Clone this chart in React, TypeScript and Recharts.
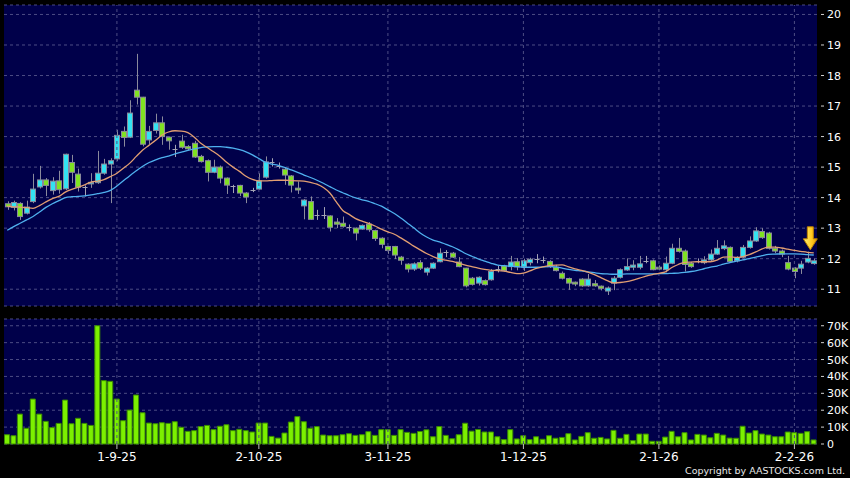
import React from 'react';
import {
  ComposedChart, Bar, Line, XAxis, YAxis, CartesianGrid, ReferenceLine, ReferenceDot,
} from 'recharts';

// daily OHLC (126 sessions)
const opens = [
  13.80, 13.68, 13.81, 13.49, 13.87, 14.35, 14.58, 14.23, 14.55, 14.29,
  15.15, 14.77, 14.34, 14.45, 14.49, 14.80, 15.10, 15.27, 16.17, 15.98,
  17.52, 17.29, 15.89, 16.20, 16.45, 15.98, 15.59, 15.85, 15.67, 15.78,
  15.35, 15.21, 14.83, 15.00, 14.64, 14.38, 14.40, 14.15, 14.26, 14.28,
  14.67, 15.18, 15.05, 14.93, 14.71, 14.31, 13.73, 13.87, 13.43, 13.43,
  13.40, 13.20, 13.16, 13.03, 13.00, 12.97, 13.13, 12.92, 12.67, 12.40,
  12.40, 12.05, 11.82, 11.66, 11.87, 11.56, 11.69, 11.90, 12.21, 12.18,
  11.89, 11.69, 11.36, 11.20, 11.28, 11.31, 11.66, 11.76, 11.74, 11.90,
  11.73, 11.87, 11.98, 11.96, 11.91, 11.72, 11.52, 11.35, 11.23, 11.33,
  11.11, 11.18, 11.10, 10.94, 11.20, 11.39, 11.63, 11.72, 11.72, 11.94,
  11.93, 11.72, 11.64, 11.85, 12.34, 12.25, 11.85, 11.91, 11.87, 11.96,
  12.15, 12.33, 12.37, 11.93, 12.05, 12.37, 12.58, 12.89, 12.84, 12.34,
  12.25, 11.87, 11.69, 11.69, 11.89, 11.84,
];
const highs = [
  13.88, 13.90, 13.85, 13.90, 14.78, 15.04, 14.64, 14.67, 14.88, 15.44,
  15.40, 14.95, 14.40, 14.80, 15.53, 15.27, 15.29, 16.22, 16.33, 17.19,
  18.71, 17.30, 16.35, 16.75, 16.66, 16.00, 15.73, 16.06, 15.72, 15.86,
  15.40, 15.25, 15.24, 15.05, 14.66, 14.42, 14.42, 14.18, 14.32, 14.80,
  15.35, 15.29, 15.15, 15.00, 14.74, 14.53, 13.95, 14.04, 13.60, 13.69,
  13.42, 13.33, 13.38, 13.12, 13.02, 13.12, 13.20, 12.95, 12.70, 12.42,
  12.42, 12.09, 11.85, 11.88, 11.95, 11.72, 11.88, 12.34, 12.28, 12.22,
  12.05, 11.70, 11.40, 11.42, 11.32, 11.66, 11.76, 11.80, 12.09, 12.02,
  12.00, 12.03, 12.15, 12.07, 11.95, 11.80, 11.58, 11.38, 11.25, 11.36,
  11.50, 11.30, 11.12, 11.09, 11.43, 11.68, 12.01, 11.95, 12.09, 12.09,
  11.97, 11.78, 12.07, 12.49, 12.68, 12.30, 11.90, 12.01, 12.08, 12.30,
  12.61, 12.60, 12.40, 12.08, 12.45, 12.73, 13.03, 13.00, 12.88, 12.42,
  12.30, 12.09, 11.72, 11.93, 12.23, 12.00,
];
const lows = [
  13.60, 13.58, 13.27, 13.45, 13.82, 14.30, 14.05, 14.10, 14.13, 14.25,
  14.48, 14.20, 14.04, 14.32, 14.45, 14.75, 13.82, 15.20, 15.67, 15.95,
  17.05, 15.68, 15.75, 16.10, 15.73, 15.57, 15.33, 15.60, 15.55, 15.30,
  15.15, 14.53, 14.80, 14.47, 14.12, 14.15, 14.05, 13.82, 14.18, 14.25,
  14.62, 15.02, 14.95, 14.42, 14.17, 14.12, 13.29, 13.27, 13.27, 13.30,
  12.89, 13.00, 13.02, 12.90, 12.60, 12.95, 12.88, 12.58, 12.34, 12.16,
  11.99, 11.80, 11.55, 11.60, 11.63, 11.45, 11.66, 11.88, 12.05, 12.02,
  11.72, 11.06, 11.12, 11.12, 11.12, 11.28, 11.55, 11.58, 11.62, 11.62,
  11.60, 11.78, 11.85, 11.85, 11.70, 11.58, 11.32, 10.98, 11.10, 11.08,
  11.08, 11.08, 10.96, 10.81, 10.97, 11.35, 11.60, 11.62, 11.65, 11.85,
  11.62, 11.62, 11.55, 11.82, 12.20, 11.58, 11.70, 11.85, 11.82, 11.92,
  12.12, 12.28, 11.88, 11.88, 12.02, 12.33, 12.55, 12.65, 12.30, 12.18,
  12.05, 11.62, 11.36, 11.50, 11.85, 11.80,
];
const closes = [
  13.70, 13.84, 13.38, 13.69, 14.28, 14.58, 14.40, 14.54, 14.26, 15.42,
  14.83, 14.34, 14.34, 14.50, 14.80, 15.10, 15.21, 16.04, 15.97, 16.77,
  17.29, 15.75, 16.17, 16.45, 16.00, 15.86, 15.59, 15.65, 15.60, 15.33,
  15.18, 14.83, 15.00, 14.64, 14.41, 14.38, 14.15, 14.02, 14.26, 14.55,
  15.17, 15.18, 15.05, 14.74, 14.41, 14.25, 13.92, 13.29, 13.43, 13.43,
  13.03, 13.13, 13.06, 13.03, 12.84, 13.09, 12.95, 12.66, 12.47, 12.27,
  12.12, 11.95, 11.66, 11.83, 11.69, 11.69, 11.85, 12.18, 12.21, 12.05,
  11.74, 11.11, 11.16, 11.39, 11.15, 11.58, 11.66, 11.61, 11.89, 11.73,
  11.93, 11.98, 11.98, 11.96, 11.74, 11.61, 11.36, 11.20, 11.17, 11.11,
  11.33, 11.11, 11.03, 11.04, 11.36, 11.64, 11.74, 11.79, 11.83, 11.94,
  11.64, 11.66, 11.85, 12.34, 12.24, 11.81, 11.74, 11.91, 11.96, 12.15,
  12.34, 12.42, 11.91, 12.04, 12.37, 12.58, 12.91, 12.69, 12.34, 12.25,
  12.15, 11.66, 11.58, 11.82, 12.01, 11.93,
];
const volumes = [
  5500, 4900, 17700, 9300, 26600, 17700, 13400, 9700, 12200, 26000,
  12000, 15200, 12200, 11000, 70000, 37500, 37100, 26600, 13800, 20100,
  29000, 18500, 12400, 12000, 12600, 12200, 13200, 9900, 7500, 7900,
  10300, 11000, 8500, 10500, 11400, 7900, 8700, 7900, 7100, 12400,
  12400, 4500, 3500, 6500, 13000, 16200, 13200, 9300, 10300, 5300,
  4900, 4900, 5500, 6100, 5100, 5500, 7300, 5100, 8500, 8500,
  5100, 8500, 6900, 6300, 7400, 8400, 4300, 10300, 5100, 3100,
  5500, 12300, 7600, 8600, 7100, 7100, 4300, 2600, 8500, 3000,
  4900, 2600, 4300, 2800, 4900, 3400, 3900, 6100, 2400, 4500,
  6700, 3400, 3900, 3000, 8100, 3400, 5700, 2000, 5900, 5900,
  1600, 1600, 4100, 7500, 4300, 6700, 2400, 5700, 5300, 3700,
  6300, 5300, 3500, 3400, 10500, 6500, 7900, 5900, 5300, 4300,
  4300, 7100, 6700, 6300, 7300, 2400,
];
// moving averages as drawn (orange = 10 day, blue = 20 day)
const ma10 = [
  13.72, 13.70, 13.69, 13.67, 13.65, 13.74, 13.86, 13.97, 14.04, 14.18,
  14.27, 14.34, 14.42, 14.51, 14.54, 14.59, 14.69, 14.80, 14.96, 15.13,
  15.35, 15.56, 15.72, 15.88, 16.05, 16.15, 16.19, 16.18, 16.13, 15.98,
  15.78, 15.64, 15.50, 15.35, 15.16, 15.00, 14.86, 14.70, 14.60, 14.55,
  14.55, 14.56, 14.57, 14.57, 14.56, 14.55, 14.54, 14.50, 14.44, 14.33,
  14.15, 13.86, 13.58, 13.45, 13.31, 13.23, 13.16, 13.07, 12.97, 12.88,
  12.80, 12.68, 12.55, 12.41, 12.29, 12.17, 12.07, 11.99, 11.95, 11.91,
  11.85, 11.79, 11.74, 11.69, 11.65, 11.62, 11.61, 11.59, 11.55, 11.51,
  11.53, 11.60, 11.68, 11.73, 11.77, 11.79, 11.80, 11.73, 11.67, 11.62,
  11.56, 11.48, 11.38, 11.28, 11.21, 11.22, 11.25, 11.30, 11.36, 11.43,
  11.48, 11.52, 11.57, 11.71, 11.81, 11.88, 11.89, 11.90, 11.90, 11.90,
  11.95, 12.05, 12.06, 12.04, 12.07, 12.13, 12.22, 12.32, 12.38, 12.38,
  12.35, 12.31, 12.27, 12.24, 12.21, 12.19,
];
const ma20 = [
  12.93, 13.05, 13.16, 13.27, 13.38, 13.53, 13.68, 13.80, 13.90, 14.00,
  14.03, 14.04, 14.06, 14.09, 14.13, 14.17, 14.24, 14.38, 14.55, 14.72,
  14.88, 15.03, 15.15, 15.24, 15.31, 15.36, 15.43, 15.49, 15.55, 15.60,
  15.64, 15.66, 15.67, 15.67, 15.65, 15.62, 15.57, 15.50, 15.40, 15.28,
  15.16, 15.10, 15.06, 14.99, 14.91, 14.83, 14.74, 14.66, 14.57, 14.47,
  14.36, 14.25, 14.16, 14.07, 13.99, 13.93, 13.88, 13.80, 13.72, 13.60,
  13.48, 13.33, 13.17, 13.01, 12.84, 12.71, 12.61, 12.55, 12.47, 12.39,
  12.29, 12.17, 12.08, 11.99, 11.92, 11.85, 11.79, 11.77, 11.75, 11.74,
  11.72, 11.72, 11.72, 11.73, 11.74, 11.73, 11.69, 11.65, 11.62, 11.60,
  11.57, 11.54, 11.51, 11.50, 11.49, 11.49, 11.50, 11.50, 11.50, 11.50,
  11.50, 11.51, 11.51, 11.52, 11.53, 11.55, 11.58, 11.62, 11.67, 11.72,
  11.76, 11.82, 11.87, 11.92, 11.96, 12.00, 12.05, 12.10, 12.14, 12.15,
  12.16, 12.16, 12.16, 12.15, 12.13, 12.12,
];

const tickIdx = [17, 39, 59, 80, 101, 122];
const tickLabels = ['1-9-25', '2-10-25', '3-11-25', '1-12-25', '2-1-26', '2-2-26'];
const priceTicks = [11, 12, 13, 14, 15, 16, 17, 18, 19, 20];
const volTicks = [0, 10000, 20000, 30000, 40000, 50000, 60000, 70000];

const rows = opens.map((o, i) => ({
  idx: i,
  open: o,
  high: highs[i],
  low: lows[i],
  close: closes[i],
  vol: volumes[i],
  ma10: ma10[i],
  ma20: ma20[i],
}));

const NAVY = '#00004a';
const GRID = '#4c4c84';
const UP = '#33e2f2';
const DOWN = '#80e222';
const EDGE = '#8a8a9c';
const DOJI = '#a4a4b4';
const FONT = '"DejaVu Sans", sans-serif';

const Candle = (props: any) => {
  const { x, y, width, height, payload } = props;
  const top = Math.min(y, y + height);
  const h = Math.abs(height);
  const { open, close, high, low } = payload;
  const py = (v: number) => (high === low ? top : top + ((high - v) / (high - low)) * h);
  const left = Math.round(x) + 0.5;
  const w = Math.max(2, Math.round(width));
  const cx = left + Math.round(w / 2);
  if (open === close) {
    const yy = Math.round(py(open)) + 0.5;
    return (
      <g>
        <line x1={cx} x2={cx} y1={top} y2={top + h} stroke={DOJI} />
        <line x1={left} x2={left + w} y1={yy} y2={yy} stroke={DOJI} />
      </g>
    );
  }
  const bTop = py(Math.max(open, close));
  const bBot = py(Math.min(open, close));
  return (
    <g>
      <line x1={cx} x2={cx} y1={top} y2={top + h} stroke={EDGE} />
      <rect
        x={left}
        y={bTop}
        width={w}
        height={Math.max(bBot - bTop, 1)}
        fill={close > open ? UP : DOWN}
        stroke={EDGE}
      />
    </g>
  );
};

const RightTick = (props: any) => {
  const { x, y, payload, fmt } = props;
  return (
    <g>
      <line x1={x - 6} x2={x - 3} y1={y} y2={y} stroke="#d0d0d0" />
      <text x={x} y={y + 4} fill="#ffffff" fontSize={11} fontFamily={FONT}>
        {fmt ? fmt(payload.value) : payload.value}
      </text>
    </g>
  );
};

const Arrow = (props: any) => {
  const { cx, cy } = props;
  const ax = cx + 3;
  return (
    <g>
      <defs>
        <linearGradient id="arrowFill" x1="0" y1="0" x2="1" y2="0">
          <stop offset="0%" stopColor="#fff07a" />
          <stop offset="60%" stopColor="#ffc81e" />
          <stop offset="100%" stopColor="#e09a00" />
        </linearGradient>
      </defs>
      <path
        d={`M${ax - 3},${cy - 23} L${ax + 3},${cy - 23} L${ax + 3},${cy - 11} L${ax + 7},${cy - 11} L${ax},${cy} L${ax - 7},${cy - 11} L${ax - 3},${cy - 11} Z`}
        fill="url(#arrowFill)"
        stroke="#c08400"
        strokeWidth={1}
      />
    </g>
  );
};

const volFmt = (v: number) => (v === 0 ? '0' : `${v / 1000}K`);

export default function App() {
  return (
    <div style={{ position: 'absolute', left: 0, top: 0, width: 850, height: 478, background: '#000', overflow: 'hidden' }}>
      <div style={{ position: 'absolute', left: 0, top: 0 }}>
        <ComposedChart width={850} height={310} data={rows} margin={{ top: 5, right: 0, bottom: 4, left: 4 }} barCategoryGap={0.5}>
          <CartesianGrid fill={NAVY} vertical={false} stroke={GRID} strokeDasharray="3 3" />
          <XAxis dataKey="idx" type="category" hide />
          <YAxis
            orientation="right"
            domain={[10.45, 20.31]}
            ticks={priceTicks}
            width={33}
            axisLine={false}
            tickLine={false}
            tickSize={8}
            tickMargin={2}
            tick={<RightTick />}
            interval={0}
          />
          {tickIdx.map((t) => (
            <ReferenceLine key={t} x={t} stroke={GRID} strokeDasharray="3 3" />
          ))}
          <Bar dataKey={(d: any) => [d.low, d.high]} shape={Candle} isAnimationActive={false} />
          <Line type="monotone" dataKey="ma20" stroke="#4fb0ee" strokeWidth={1.3} dot={false} activeDot={false} isAnimationActive={false} />
          <Line type="monotone" dataKey="ma10" stroke="#e29e72" strokeWidth={1.3} dot={false} activeDot={false} isAnimationActive={false} />
          <ReferenceDot x={124} y={12.29} r={0} shape={Arrow} />
        </ComposedChart>
      </div>
      <div style={{ position: 'absolute', left: 0, top: 310 }}>
        <ComposedChart width={850} height={168} data={rows} margin={{ top: 9, right: 0, bottom: 0, left: 4 }} barCategoryGap={0.5}>
          <CartesianGrid fill={NAVY} vertical={false} stroke={GRID} strokeDasharray="3 3" />
          <XAxis
            dataKey="idx"
            type="category"
            ticks={tickIdx}
            interval={0}
            height={34}
            axisLine={false}
            tickLine={{ stroke: '#c0c0c0' }}
            tickSize={5}
            tickMargin={3}
            tick={{ fill: '#ffffff', fontSize: 12, fontFamily: FONT }}
            tickFormatter={(v: number) => tickLabels[tickIdx.indexOf(v)]}
          />
          <YAxis
            orientation="right"
            domain={[0, 74000]}
            ticks={volTicks}
            width={33}
            axisLine={false}
            tickLine={false}
            tickSize={8}
            tickMargin={2}
            tick={<RightTick fmt={volFmt} />}
            interval={0}
          />
          {tickIdx.map((t) => (
            <ReferenceLine key={t} x={t} stroke={GRID} strokeDasharray="3 3" />
          ))}
          <Bar dataKey="vol" fill="#7cf000" stroke="#3a8c00" strokeWidth={1} isAnimationActive={false} />
        </ComposedChart>
      </div>
      <div
        style={{
          position: 'absolute',
          right: 5,
          top: 465,
          fontFamily: FONT,
          fontSize: 9.5,
          lineHeight: '11px',
          color: '#e8e8e8',
          whiteSpace: 'nowrap',
        }}
      >
        Copyright by AASTOCKS.com Ltd.
      </div>
    </div>
  );
}
